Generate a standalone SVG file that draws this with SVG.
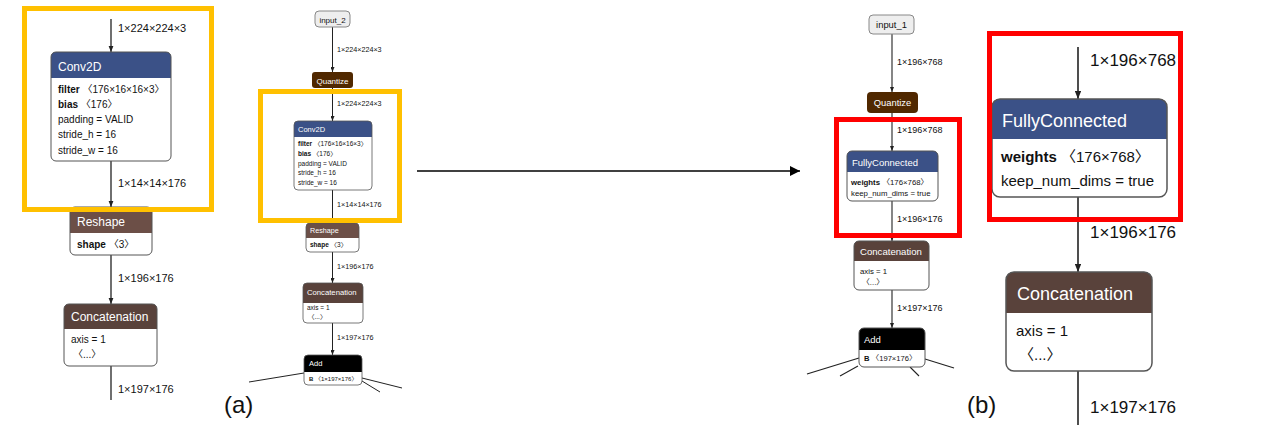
<svg xmlns="http://www.w3.org/2000/svg" width="1280" height="425" viewBox="0 0 1280 425">
<defs>
<style>
text{font-family:"Liberation Sans","Noto Sans CJK SC",sans-serif;fill:#111}
.t{fill:#fff}
.b{font-weight:bold}
.box{fill:none;stroke:#555}
.bg{fill:#fff}
.layer{fill:#3b5187}
.shape{fill:#6c4f47}
.tensor{fill:#59423b}
.quant{fill:#502800}
.dflt{fill:#000}
.edge{stroke:#222;fill:none}
.hl-y{fill:none;stroke:#ffc000;stroke-width:5}
.hl-r{fill:none;stroke:#ff0000;stroke-width:5}
.inp{fill:#eee;stroke:#888}
</style>
<marker id="ah" viewBox="0 0 10 8" refX="10" refY="4" markerWidth="5" markerHeight="4" markerUnits="strokeWidth" orient="auto"><path d="M0,0 L10,4 L0,8 z" fill="#222"/></marker>
<marker id="big" viewBox="0 0 10 10" refX="10" refY="5" markerWidth="10" markerHeight="10" markerUnits="userSpaceOnUse" orient="auto"><path d="M0,0 L10,5 L0,10 z" fill="#000"/></marker>
</defs>
<rect width="1280" height="425" fill="#fff"/>

<g id="connectors">
<!-- left -->
<line class="edge" x1="111" y1="19" x2="111" y2="52" stroke-width="1.3" marker-end="url(#ah)"/>
<line class="edge" x1="111" y1="161" x2="111" y2="207" stroke-width="1.3" marker-end="url(#ah)"/>
<line class="edge" x1="111" y1="255" x2="111" y2="304" stroke-width="1.3" marker-end="url(#ah)"/>
<line class="edge" x1="111" y1="366" x2="111" y2="400" stroke-width="1.3"/>
<!-- middle -->
<line class="edge" x1="332.5" y1="27" x2="332.5" y2="72" stroke-width="1" marker-end="url(#ah)"/>
<line class="edge" x1="332.5" y1="88" x2="332.5" y2="121" stroke-width="1" marker-end="url(#ah)"/>
<line class="edge" x1="332.5" y1="190" x2="332.5" y2="223" stroke-width="1" marker-end="url(#ah)"/>
<line class="edge" x1="332.5" y1="252" x2="332.5" y2="283" stroke-width="1" marker-end="url(#ah)"/>
<line class="edge" x1="332.5" y1="323" x2="332.5" y2="355" stroke-width="1" marker-end="url(#ah)"/>
<line class="edge" x1="304" y1="373" x2="249" y2="382" stroke-width="1"/>
<line class="edge" x1="362" y1="378" x2="402" y2="388" stroke-width="1"/>
<line class="edge" x1="362" y1="381" x2="380" y2="392" stroke-width="1"/>
<!-- transition arrow -->
<line x1="417" y1="171" x2="800" y2="171" stroke="#000" stroke-width="1.3" marker-end="url(#big)"/>
<!-- right small -->
<line class="edge" x1="892" y1="34" x2="892" y2="92" stroke-width="1.1" marker-end="url(#ah)"/>
<line class="edge" x1="892" y1="113" x2="892" y2="151" stroke-width="1.1" marker-end="url(#ah)"/>
<line class="edge" x1="892" y1="201" x2="892" y2="241" stroke-width="1.1" marker-end="url(#ah)"/>
<line class="edge" x1="892" y1="290" x2="892" y2="328" stroke-width="1.1" marker-end="url(#ah)"/>
<line class="edge" x1="859" y1="358" x2="807" y2="374" stroke-width="1.1"/>
<line class="edge" x1="858" y1="366" x2="840" y2="376" stroke-width="1.1"/>
<line class="edge" x1="925" y1="359" x2="954" y2="368" stroke-width="1.1"/>
<line class="edge" x1="910" y1="367" x2="919" y2="376" stroke-width="1.1"/>
<!-- right large -->
<line class="edge" x1="1078" y1="47" x2="1078" y2="99" stroke-width="1.6" marker-end="url(#ah)"/>
<line class="edge" x1="1078" y1="197" x2="1078" y2="272" stroke-width="1.6" marker-end="url(#ah)"/>
<line class="edge" x1="1078" y1="371" x2="1078" y2="425" stroke-width="1.6"/>
</g>

<g id="edge-labels">
<text x="118" y="32" font-size="11">1×224×224×3</text>
<text x="118" y="187" font-size="11">1×14×14×176</text>
<text x="118" y="282" font-size="11">1×196×176</text>
<text x="118" y="393" font-size="11">1×197×176</text>
<text x="337" y="52" font-size="7.2">1×224×224×3</text>
<text x="337" y="106" font-size="7.2">1×224×224×3</text>
<text x="337" y="207" font-size="7.2">1×14×14×176</text>
<text x="337" y="269" font-size="7.2">1×196×176</text>
<text x="337" y="340" font-size="7.2">1×197×176</text>
<text x="897" y="65" font-size="9">1×196×768</text>
<text x="897" y="133" font-size="9">1×196×768</text>
<text x="897" y="222" font-size="9">1×196×176</text>
<text x="897" y="311" font-size="9">1×197×176</text>
<text x="1090" y="66" font-size="17">1×196×768</text>
<text x="1090" y="238" font-size="17">1×196×176</text>
<text x="1090" y="413" font-size="17">1×197×176</text>
</g>

<!-- left panel nodes -->
<g id="conv2d-a-large">
<rect class="bg" x="51" y="52" width="120" height="109" rx="5"/>
<path class="layer" d="M51,78 V57 Q51,52 56,52 H166 Q171,52 171,57 V78 Z"/>
<rect class="box" x="51" y="52" width="120" height="109" rx="5"/>
<text class="t" x="58" y="71" font-size="12">Conv2D</text>
<text x="58" y="93" font-size="10"><tspan class="b">filter</tspan> 〈176×16×16×3〉</text>
<text x="58" y="108" font-size="10"><tspan class="b">bias</tspan> 〈176〉</text>
<text x="58" y="123" font-size="10">padding = VALID</text>
<text x="58" y="138" font-size="10">stride_h = 16</text>
<text x="58" y="154" font-size="10">stride_w = 16</text>
</g>
<g id="reshape-a-large">
<rect class="bg" x="70" y="207" width="82" height="48" rx="5"/>
<path class="shape" d="M70,233 V212 Q70,207 75,207 H147 Q152,207 152,212 V233 Z"/>
<rect class="box" x="70" y="207" width="82" height="48" rx="5"/>
<text class="t" x="77" y="226" font-size="12">Reshape</text>
<text x="77" y="248" font-size="10"><tspan class="b">shape</tspan> 〈3〉</text>
</g>
<g id="concat-a-large">
<rect class="bg" x="64" y="304" width="93" height="62" rx="5"/>
<path class="tensor" d="M64,329 V309 Q64,304 69,304 H152 Q157,304 157,309 V329 Z"/>
<rect class="box" x="64" y="304" width="93" height="62" rx="5"/>
<text class="t" x="71" y="321" font-size="12">Concatenation</text>
<text x="71" y="343" font-size="10">axis = 1</text>
<text x="73" y="358" font-size="10">〈...〉</text>
</g>

<!-- middle graph nodes -->
<g id="input-2">
<rect class="inp" x="315" y="11" width="35" height="16" rx="4"/>
<text x="332.5" y="22.5" font-size="8" text-anchor="middle">input_2</text>
</g>
<g id="quantize-a">
<rect class="quant" x="312" y="72" width="41" height="16" rx="3"/>
<text class="t" x="332.5" y="83.5" font-size="8" text-anchor="middle">Quantize</text>
</g>
<g id="conv2d-a">
<rect class="bg" x="294" y="121" width="78" height="69" rx="4"/>
<path class="layer" d="M294,137 V125 Q294,121 298,121 H368 Q372,121 372,125 V137 Z"/>
<rect class="box" x="294" y="121" width="78" height="69" rx="4" stroke-width="0.8"/>
<text class="t" x="298" y="131.5" font-size="7.5">Conv2D</text>
<text x="298" y="146" font-size="6.5"><tspan class="b">filter</tspan> 〈176×16×16×3〉</text>
<text x="298" y="155.5" font-size="6.5"><tspan class="b">bias</tspan> 〈176〉</text>
<text x="298" y="165.5" font-size="6.5">padding = VALID</text>
<text x="298" y="175" font-size="6.5">stride_h = 16</text>
<text x="298" y="185" font-size="6.5">stride_w = 16</text>
</g>
<g id="reshape-a">
<rect class="bg" x="306" y="223" width="53" height="29" rx="4"/>
<path class="shape" d="M306,238 V227 Q306,223 310,223 H355 Q359,223 359,227 V238 Z"/>
<rect class="box" x="306" y="223" width="53" height="29" rx="4" stroke-width="0.8"/>
<text class="t" x="310" y="233" font-size="7.2">Reshape</text>
<text x="310" y="247" font-size="6.5"><tspan class="b">shape</tspan> 〈3〉</text>
</g>
<g id="concat-a">
<rect class="bg" x="303" y="283" width="60" height="40" rx="4"/>
<path class="tensor" d="M303,303 V287 Q303,283 307,283 H359 Q363,283 363,287 V303 Z"/>
<rect class="box" x="303" y="283" width="60" height="40" rx="4" stroke-width="0.8"/>
<text class="t" x="307" y="295" font-size="7.7">Concatenation</text>
<text x="307" y="309.5" font-size="6.5">axis = 1</text>
<text x="308" y="319" font-size="6.5">〈...〉</text>
</g>
<g id="add-a">
<rect class="bg" x="304" y="355" width="58" height="30" rx="4"/>
<path class="dflt" d="M304,372 V359 Q304,355 308,355 H358 Q362,355 362,359 V372 Z"/>
<rect class="box" x="304" y="355" width="58" height="30" rx="4" stroke-width="0.8"/>
<text class="t" x="309" y="366" font-size="7.5">Add</text>
<text x="309" y="380.5" font-size="6"><tspan class="b">B</tspan> 〈1×197×176〉</text>
</g>

<!-- right small graph nodes -->
<g id="input-1">
<rect class="inp" x="869" y="15" width="45" height="19" rx="4"/>
<text x="891.5" y="28" font-size="9.4" text-anchor="middle">input_1</text>
</g>
<g id="quantize-b">
<rect class="quant" x="867" y="92" width="51" height="21" rx="4"/>
<text class="t" x="892.5" y="106" font-size="9.4" text-anchor="middle">Quantize</text>
</g>
<g id="fc-b">
<rect class="bg" x="847" y="151" width="91" height="50" rx="5"/>
<path class="layer" d="M847,172 V156 Q847,151 852,151 H933 Q938,151 938,156 V172 Z"/>
<rect class="box" x="847" y="151" width="91" height="50" rx="5"/>
<text class="t" x="852" y="166" font-size="9.5">FullyConnected</text>
<text x="851" y="184.5" font-size="7.8"><tspan class="b">weights</tspan> 〈176×768〉</text>
<text x="851" y="195.5" font-size="7.8">keep_num_dims = true</text>
</g>
<g id="concat-b">
<rect class="bg" x="854" y="241" width="75" height="49" rx="5"/>
<path class="tensor" d="M854,261 V246 Q854,241 859,241 H924 Q929,241 929,246 V261 Z"/>
<rect class="box" x="854" y="241" width="75" height="49" rx="5"/>
<text class="t" x="860" y="254.5" font-size="9.6">Concatenation</text>
<text x="860" y="273.5" font-size="7.8">axis = 1</text>
<text x="862" y="284.5" font-size="7.8">〈...〉</text>
</g>
<g id="add-b">
<rect class="bg" x="859" y="328" width="66" height="39" rx="5"/>
<path class="dflt" d="M859,350 V333 Q859,328 864,328 H920 Q925,328 925,333 V350 Z"/>
<rect class="box" x="859" y="328" width="66" height="39" rx="5"/>
<text class="t" x="864" y="342.5" font-size="9.5">Add</text>
<text x="864" y="360.5" font-size="7.6"><tspan class="b">B</tspan> 〈197×176〉</text>
</g>

<!-- right large nodes -->
<g id="fc-b-large">
<rect class="bg" x="992" y="99" width="175" height="98" rx="8"/>
<path class="layer" d="M992,139 V107 Q992,99 1000,99 H1159 Q1167,99 1167,107 V139 Z"/>
<rect class="box" x="992" y="99" width="175" height="98" rx="8" stroke-width="1.5"/>
<text class="t" x="1002" y="127" font-size="18">FullyConnected</text>
<text x="1001" y="162" font-size="15"><tspan class="b">weights</tspan> 〈176×768〉</text>
<text x="1001" y="186" font-size="15">keep_num_dims = true</text>
</g>
<g id="concat-b-large">
<rect class="bg" x="1006" y="272" width="146" height="99" rx="8"/>
<path class="tensor" d="M1006,313 V280 Q1006,272 1014,272 H1144 Q1152,272 1152,280 V313 Z"/>
<rect class="box" x="1006" y="272" width="146" height="99" rx="8" stroke-width="1.5"/>
<text class="t" x="1017" y="300" font-size="18">Concatenation</text>
<text x="1016" y="336" font-size="15">axis = 1</text>
<text x="1019" y="360" font-size="15">〈...〉</text>
</g>

<g id="highlights">
<rect class="hl-y" x="24.5" y="8.5" width="187" height="201"/>
<rect class="hl-y" x="260.5" y="91.5" width="139" height="129"/>
<rect class="hl-r" x="836.5" y="119.5" width="123" height="116"/>
<rect class="hl-r" x="989.5" y="33.5" width="191" height="186"/>
</g>

<g id="captions">
<text x="224" y="413" font-size="24">(a)</text>
<text x="967" y="413" font-size="24">(b)</text>
</g>
</svg>
